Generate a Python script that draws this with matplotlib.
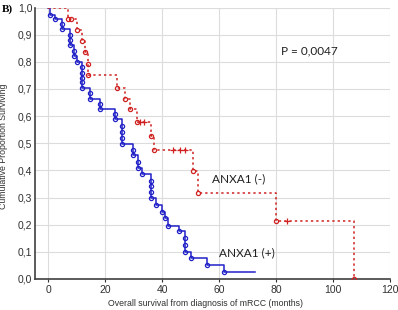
import matplotlib
matplotlib.use("Agg")
import matplotlib.pyplot as plt

# ANXA1 (+) step curve (time in months, survival after step)
pos_t = [0, 0.7, 2.5, 4.8, 7.7, 9.1, 10.0, 11.8, 14.7, 18.2, 23.5, 25.9, 29.9, 31.7, 32.9,
         36.0, 37.9, 39.9, 41.2, 42.2, 46.0, 48.1, 50.0, 55.7, 61.8]
pos_s = [1.0, 0.974, 0.958, 0.92, 0.863, 0.82, 0.80, 0.705, 0.663, 0.627, 0.588, 0.496, 0.456,
         0.41, 0.386, 0.297, 0.272, 0.245, 0.223, 0.197, 0.176, 0.10, 0.076, 0.051, 0.027]
pos_end = 72.6
# ANXA1 (+) event markers
pos_mt = [0.7, 2.5, 4.8, 4.8, 7.7, 7.7, 7.7, 9.1, 9.1, 10.0, 11.8, 11.8, 11.8, 11.8, 11.8,
          14.7, 14.7, 18.2, 18.2, 23.5, 23.5, 25.9, 25.9, 25.9, 25.9, 29.9, 29.9, 31.7, 31.7,
          32.9, 36.0, 36.0, 36.0, 36.0, 37.9, 39.9, 41.2, 42.2, 46.0, 48.1, 48.1, 48.1, 50.0,
          55.7, 61.8]
pos_ms = [0.974, 0.958, 0.94, 0.92, 0.90, 0.88, 0.863, 0.84, 0.82, 0.80, 0.78, 0.76, 0.74,
          0.725, 0.705, 0.685, 0.663, 0.645, 0.627, 0.607, 0.588, 0.565, 0.54, 0.518, 0.496,
          0.476, 0.456, 0.43, 0.41, 0.386, 0.362, 0.342, 0.32, 0.297, 0.272, 0.245, 0.223,
          0.197, 0.176, 0.15, 0.125, 0.10, 0.076, 0.051, 0.027]

# ANXA1 (-) step curve
neg_t = [0, 7.1, 10.3, 11.8, 13.0, 13.9, 24.1, 27.0, 28.8, 31.1, 36.0, 37.2, 51.0, 52.7, 80.0, 107.5]
neg_s = [1.0, 0.958, 0.918, 0.876, 0.835, 0.751, 0.705, 0.663, 0.625, 0.578, 0.526, 0.474,
         0.397, 0.317, 0.213, 0.0]
# ANXA1 (-) event markers
neg_mt = [7.1, 8.0, 10.3, 11.8, 13.0, 13.9, 13.9, 24.1, 27.0, 28.8, 31.1, 36.0, 37.2, 51.0,
          52.7, 80.0, 107.5]
neg_ms = [0.958, 0.958, 0.918, 0.876, 0.835, 0.793, 0.751, 0.705, 0.663, 0.625, 0.578, 0.526,
          0.474, 0.397, 0.317, 0.213, 0.0]
# ANXA1 (-) censored
neg_ct = [32.3, 33.7, 44.0, 46.3, 48.1, 83.7]
neg_cs = [0.578, 0.578, 0.474, 0.474, 0.474, 0.213]

xticks = [0, 20, 40, 60, 80, 100, 120]
yticks = [0.0, 0.1, 0.2, 0.3, 0.4, 0.5, 0.6, 0.7, 0.8, 0.9, 1.0]

blue = "#2020c8"
red = "#d02020"

fig = plt.figure(figsize=(3.98, 3.10), dpi=100)
ax = fig.add_axes([35 / 398, 1 - 279 / 310, (390 - 35) / 398, (279 - 7.5) / 310])

ax.step(pos_t + [pos_end], pos_s + [pos_s[-1]], where="post", color=blue, lw=1.1, zorder=3)
ax.plot(pos_mt, pos_ms, "o", ms=3.0, mfc="none", mec=blue, mew=0.9, zorder=4)

ax.step(neg_t, neg_s, where="post", color=red, lw=1.1, ls=(0, (1.5, 2)), zorder=3)
ax.plot(neg_mt, neg_ms, "o", ms=3.0, mfc="none", mec=red, mew=0.9, zorder=4)
ax.plot(neg_ct, neg_cs, "+", ms=4, mec=red, mew=0.9, zorder=4)

ax.set_xlim(-4.6, 120)
ax.set_ylim(0, 1.0)
ax.set_xticks(xticks)
ax.set_yticks(yticks)
ax.set_xticklabels([str(v) for v in xticks])
ax.set_yticklabels([f"{v:.1f}".replace(".", ",") for v in yticks])
ax.grid(True, color="#dcdcdc", lw=0.8)
ax.set_axisbelow(True)
for s in ["top", "right"]:
    ax.spines[s].set_visible(False)
for s in ["left", "bottom"]:
    ax.spines[s].set_color("#404040")
    ax.spines[s].set_linewidth(1.2)
ax.tick_params(axis="both", labelsize=7.5, colors="#303030", width=0.8,
               labelfontfamily="Liberation Sans")
ax.tick_params(axis="y", length=0, pad=2)
ax.tick_params(axis="x", length=2, pad=2)

ax.set_ylabel("Cumulative Proportion Surviving", fontsize=6.3, family="Liberation Sans",
              color="#303030")
ax.yaxis.set_label_coords(-0.075, 0.49)
ax.set_xlabel("Overall survival from diagnosis of mRCC (months)", fontsize=6.3,
              family="Liberation Sans", color="#303030")
ax.xaxis.set_label_coords(0.48, -0.075)

ax.text(81.8, 0.84, "P = 0,0047", fontsize=8.5, family="Lato", color="#202020", va="center")
ax.text(57.5, 0.368, "ANXA1 (-)", fontsize=8.5, family="Lato", color="#202020", va="center")
ax.text(60, 0.096, "ANXA1 (+)", fontsize=8.5, family="Lato", color="#202020", va="center")

fig.text(2 / 398, 1 - 9 / 310, "B)", fontsize=8, family="Liberation Serif",
         fontweight="bold", va="center", ha="left")

fig.savefig("out.png", dpi=100)
